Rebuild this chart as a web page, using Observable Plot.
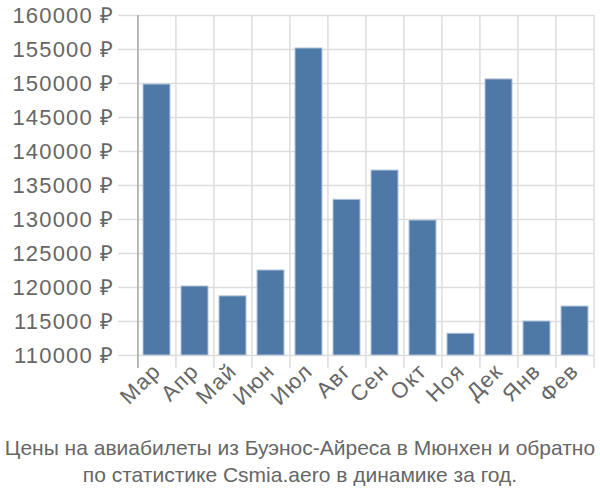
<!DOCTYPE html>
<html>
<head>
<meta charset="utf-8">
<script src="https://cdn.jsdelivr.net/npm/d3@7"></script>
<script src="https://cdn.jsdelivr.net/npm/@observablehq/plot@0.6"></script>
<style>
  body { margin: 0; background: #fff; font-family: "Liberation Sans", Arial, sans-serif; }
  #chart { width: 600px; }
  .caption { width: 600px; text-align: center; color: #666; font-size: 21px; line-height: 27px; margin-top: 4px; white-space: nowrap; }
  #chart svg text { font-size: 22px !important; letter-spacing: 1.2px; }
</style>
</head>
<body>
<div id="chart"></div>
<div class="caption">Цены на авиабилеты из Буэнос-Айреса в Мюнхен и обратно<br>по статистике Csmia.aero в динамике за год.</div>
<script>
const months = ["Мар","Апр","Май","Июн","Июл","Авг","Сен","Окт","Ноя","Дек","Янв","Фев"];
const prices = [149850, 120150, 118700, 122500, 155150, 132900, 137200, 129850, 113200, 150600, 115000, 117200];
const yTicks = [110000,115000,120000,125000,130000,135000,140000,145000,150000,155000,160000];
const yBase = 110000;

const data = months.map((m, i) => ({month: m, price: prices[i]}));

const W = 600, H = 430, mL = 136, mR = 6, mT = 15, mB = 75;
const step = (W - mL - mR) / months.length;

const plot = Plot.plot({
  width: W, height: H,
  marginLeft: mL, marginRight: mR, marginTop: mT, marginBottom: mB,
  style: {fontFamily: "'Liberation Sans', Arial, sans-serif", fontSize: "22px", color: "#666", background: "#fff"},
  x: {domain: months, paddingInner: 0.3, paddingOuter: 0.15, label: null},
  y: {domain: [110000, 160000], label: null},
  marks: [
    Plot.ruleY(yTicks, {y: d => d, stroke: "#ddd", strokeWidth: 1.5, insetLeft: -18}),
    Plot.ruleX(months, {x: d => d, dx: -step/2, stroke: "#ddd", strokeWidth: 1.5, insetBottom: -13}),
    Plot.ruleX([months[months.length-1]], {x: d => d, dx: step/2, stroke: "#ddd", strokeWidth: 1.5, insetBottom: -13}),
    Plot.ruleX([months[0]], {x: d => d, dx: -step/2, stroke: "#aaa", strokeWidth: 1.5, insetBottom: -13}),
    Plot.rectY(data, {x: "month", y1: () => yBase, y2: "price", fill: "#4e79a7", stroke: "#b4c6da", strokeWidth: 1}),
    Plot.axisY({ticks: yTicks, tickSize: 0, tickPadding: 22, tickFormat: d => d + " ₽", fill: "#666", fontSize: 22}),
    Plot.axisX({tickSize: 0, tickPadding: 12, tickRotate: -45, fill: "#666", fontSize: 22})
  ]
});
document.getElementById("chart").appendChild(plot);
</script>
</body>
</html>
